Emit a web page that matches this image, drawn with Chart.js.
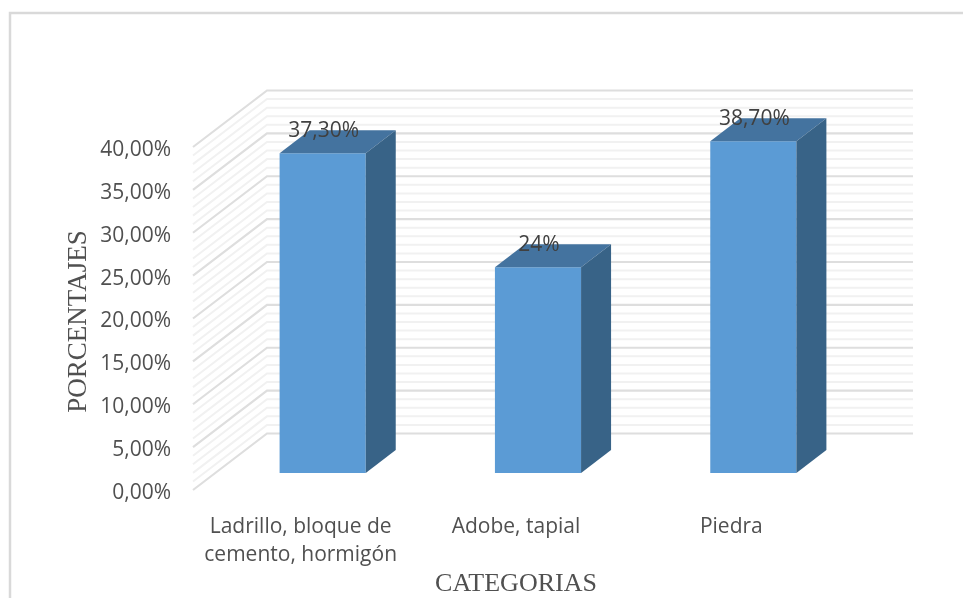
<!DOCTYPE html>
<html><head><meta charset="utf-8">
<style>html,body{margin:0;padding:0;background:#fff}#w{position:relative;width:963px;height:598px}</style>
<script src="https://cdn.jsdelivr.net/npm/chart.js@4"></script></head>
<body><div id="w"><canvas id="c" width="963" height="598"></canvas></div>
<script>
const categories = [["Ladrillo, bloque de","cemento, hormigón"],"Adobe, tapial","Piedra"];
const values = [37.3,24,38.7];
const valueLabels = ["37,30%","24%","38,70%"];
const yTitle = "PORCENTAJES";
const xTitle = "CATEGORIAS";
const FONT = "'Open Sans'";
const TEXT = '#505050';
const wallShiftY = -3;
const depth = {x:74,y:-56.5}, barShift = {x:22,y:-20}, sideDepth = {x:30,y:-23};
const box3d = {
  id:'box3d',
  beforeDraw(chart){
    const {ctx}=chart;
    ctx.save();ctx.strokeStyle='#d9d9d9';ctx.lineWidth=2.5;
    ctx.beginPath();ctx.moveTo(10,598);ctx.lineTo(10,13);ctx.lineTo(963,13);ctx.stroke();ctx.restore();
  },
  beforeDatasetsDraw(chart){
    const {ctx,scales:{x,y},chartArea:a}=chart;
    ctx.save();
    for(let v=0;v<=40;v++){
      const p=y.getPixelForValue(v)+wallShiftY, major=v%5===0;
      ctx.strokeStyle=major?'#dedede':'#f1f1f1';
      ctx.lineWidth=major?2.2:2;
      ctx.beginPath();
      ctx.moveTo(a.left,p);
      ctx.lineTo(a.left+depth.x,p+depth.y);
      ctx.lineTo(a.right+depth.x,p+depth.y);
      ctx.stroke();
    }
    ctx.restore();
    ctx.save();
    ctx.translate(barShift.x,barShift.y);
  },
  afterDatasetsDraw(chart){
    const {ctx}=chart;
    const meta=chart.getDatasetMeta(0);
    meta.data.forEach((b,i)=>{
      const l=b.x-b.width/2,r=b.x+b.width/2,t=b.y,base=b.base;
      ctx.fillStyle='#44739f';
      ctx.beginPath();ctx.moveTo(l,t);ctx.lineTo(l+sideDepth.x,t+sideDepth.y);ctx.lineTo(r+sideDepth.x,t+sideDepth.y);ctx.lineTo(r,t);ctx.closePath();ctx.fill();
      ctx.fillStyle='#386387';
      ctx.beginPath();ctx.moveTo(r,t);ctx.lineTo(r+sideDepth.x,t+sideDepth.y);ctx.lineTo(r+sideDepth.x,base+sideDepth.y);ctx.lineTo(r,base);ctx.closePath();ctx.fill();
    });
    ctx.restore();
    ctx.save();
    ctx.font="21px "+FONT;ctx.fillStyle='#404040';ctx.textAlign='center';ctx.textBaseline='middle';
    meta.data.forEach((b,i)=>{
      ctx.fillText(valueLabels[i],b.x+barShift.x+1,b.y+barShift.y-22);
    });
    ctx.restore();
  }
};
new Chart(document.getElementById('c'),{
  type:'bar',
  data:{labels:categories,datasets:[{data:values,backgroundColor:'#5b9bd5',barPercentage:0.4,categoryPercentage:1}]},
  plugins:[box3d],
  options:{
    responsive:false,animation:false,
    layout:{padding:{top:150,right:124,left:63,bottom:0}},
    plugins:{legend:{display:false},tooltip:{enabled:false},title:{display:false}},
    scales:{
      x:{
        afterFit(s){s.height=105;},
        grid:{display:false},border:{display:false},
        ticks:{color:TEXT,font:{family:FONT,size:21,lineHeight:1.33},maxRotation:0,autoSkip:false,padding:12},
        title:{display:true,text:xTitle,color:TEXT,font:{family:"'Liberation Serif'",size:26},padding:{top:0,bottom:-2}}
      },
      y:{
        min:0,max:40,
        afterFit(s){s.width=130;},
        grid:{display:false},border:{display:false},
        ticks:{stepSize:5,color:TEXT,font:{family:FONT,size:21},padding:14,callback:v=>v.toFixed(2).replace('.',',')+'%'},
        title:{display:true,text:yTitle,color:TEXT,font:{family:"'Liberation Serif'",size:27},padding:{top:0,bottom:0}}
      }
    }
  }
});
</script></body></html>
